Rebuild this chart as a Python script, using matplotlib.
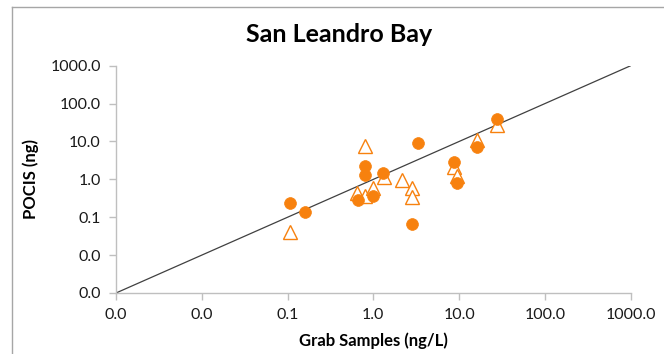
import matplotlib
matplotlib.use("Agg")
import matplotlib.pyplot as plt
from matplotlib.ticker import FixedLocator, FixedFormatter, NullLocator
from matplotlib.lines import Line2D

plt.rcParams['font.family'] = ['Lato', 'DejaVu Sans']

# Series 1: filled circles
grab_circ = [0.107, 0.158, 0.66, 0.79, 0.79, 0.98, 1.31, 3.30, 2.79, 8.65, 9.5, 16.1, 27.9]
pocis_circ = [0.235, 0.136, 0.286, 2.3, 1.28, 0.365, 1.45, 8.97, 0.065, 2.88, 0.807, 7.03, 38.5]

# Series 2: open triangles
grab_tri = [0.107, 0.79, 0.64, 0.80, 1.0, 1.33, 2.17, 2.82, 2.82, 8.65, 9.5, 16.1, 27.9]
pocis_tri = [0.042, 7.6, 0.446, 0.365, 0.60, 1.18, 0.96, 0.58, 0.34, 2.09, 1.23, 10.96, 27.3]

# 1:1 reference line
line_x = [0.001, 1000]
line_y = [0.001, 1000]

ticks = [0.001, 0.01, 0.1, 1, 10, 100, 1000]
tick_labels = ["0.0", "0.0", "0.1", "1.0", "10.0", "100.0", "1000.0"]

orange = '#F7810E'
gray = '#BFBFBF'

fig = plt.figure(figsize=(6.64, 3.54), dpi=100)
ax = fig.add_axes([116/664, 1 - 293/354, (630.7 - 116)/664, (293 - 65.7)/354])

ax.plot(line_x, line_y, color='#404040', lw=0.9, zorder=1)
ax.plot(grab_tri, pocis_tri, linestyle='none', marker='^', ms=9.5, mfc='white',
        mec=orange, mew=1.0, zorder=2)
ax.plot(grab_circ, pocis_circ, linestyle='none', marker='o', ms=8.5, mfc=orange,
        mec=orange, mew=0.5, zorder=3)

ax.set_xscale('log')
ax.set_yscale('log')
ax.set_xlim(0.001, 1000)
ax.set_ylim(0.001, 1000)
for a in (ax.xaxis, ax.yaxis):
    a.set_major_locator(FixedLocator(ticks))
    a.set_major_formatter(FixedFormatter(tick_labels))
    a.set_minor_locator(NullLocator())

for s in ['top', 'right']:
    ax.spines[s].set_visible(False)
for s in ['left', 'bottom']:
    ax.spines[s].set_color(gray)
    ax.spines[s].set_linewidth(1.0)
ax.tick_params(axis='both', which='major', direction='out', length=5, width=1.0,
               color=gray, labelsize=11.5, labelcolor='#1a1a1a')
ax.tick_params(axis='x', pad=6)
ax.tick_params(axis='y', pad=6)

ax.set_xlabel("Grab Samples (ng/L)", fontsize=12, fontweight='bold', labelpad=7)
ax.set_ylabel("POCIS (ng)", fontsize=12, fontweight='bold', labelpad=8)

fig.text(339/664, 1 - 34/354, "San Leandro Bay", ha='center', va='center',
         fontsize=18, fontweight='bold', color='#000000')

# chart frame (partially visible)
fig.add_artist(Line2D([12/664, 12/664], [0, 1 - 7/354], transform=fig.transFigure,
                      color='#A6A6A6', lw=1.0))
fig.add_artist(Line2D([12/664, 1], [1 - 7/354, 1 - 7/354], transform=fig.transFigure,
                      color='#A6A6A6', lw=1.0))

fig.savefig("out.png", dpi=100)
